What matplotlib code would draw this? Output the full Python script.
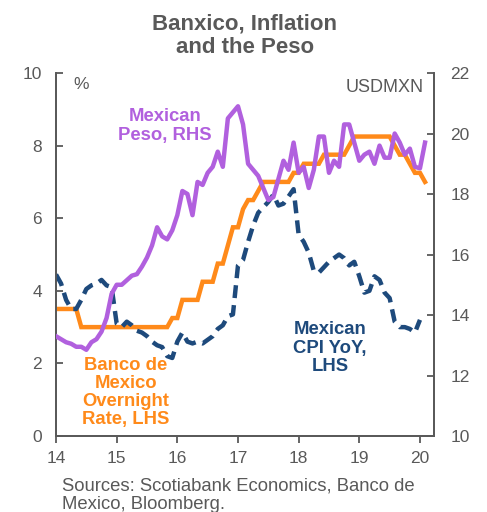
import matplotlib
matplotlib.use("Agg")
import matplotlib.pyplot as plt
import numpy as np

plt.rcParams['font.family'] = ['Liberation Sans', 'DejaVu Sans']

# Monthly observations, Jan 2014 .. Feb 2020
start_year = 14
banxico_rate = [3.5, 3.5, 3.5, 3.5, 3.5, 3.0, 3.0, 3.0, 3.0, 3.0, 3.0, 3.0,
                3.0, 3.0, 3.0, 3.0, 3.0, 3.0, 3.0, 3.0, 3.0, 3.0, 3.0, 3.25,
                3.25, 3.75, 3.75, 3.75, 3.75, 4.25, 4.25, 4.25, 4.75, 4.75, 5.25, 5.75,
                5.75, 6.25, 6.5, 6.5, 6.75, 7.0, 7.0, 7.0, 7.0, 7.0, 7.0, 7.25,
                7.25, 7.5, 7.5, 7.5, 7.5, 7.75, 7.75, 7.75, 7.75, 7.75, 8.0, 8.25,
                8.25, 8.25, 8.25, 8.25, 8.25, 8.25, 8.25, 8.0, 7.75, 7.75, 7.5, 7.25,
                7.25, 7.0]

usdmxn = [13.3, 13.2, 13.1, 13.05, 12.95, 12.95, 12.85, 13.1, 13.2, 13.45, 13.9, 14.7,
          15.0, 15.0, 15.15, 15.3, 15.35, 15.6, 15.9, 16.3, 16.9, 16.6, 16.5, 16.8,
          17.3, 18.1, 18.0, 17.3, 18.4, 18.3, 18.7, 18.9, 19.4, 18.9, 20.5, 20.7,
          20.9, 20.3, 19.0, 18.8, 18.6, 18.2, 17.8, 17.9, 18.5, 19.1, 18.8, 19.7,
          18.7, 18.9, 18.2, 18.8, 19.9, 19.9, 18.7, 19.1, 18.9, 20.3, 20.3, 19.7,
          19.1, 19.3, 19.4, 19.0, 19.6, 19.2, 19.2, 20.0, 19.7, 19.3, 19.5, 18.9,
          18.85, 19.7]

cpi_yoy = [4.45, 4.2, 3.75, 3.5, 3.5, 3.75, 4.05, 4.15, 4.2, 4.3, 4.15, 4.1,
           3.1, 3.0, 3.15, 3.05, 2.9, 2.85, 2.75, 2.6, 2.5, 2.45, 2.2, 2.15,
           2.6, 2.85, 2.6, 2.55, 2.6, 2.55, 2.65, 2.75, 2.95, 3.05, 3.3, 3.35,
           4.7, 4.85, 5.35, 5.8, 6.15, 6.3, 6.45, 6.65, 6.35, 6.4, 6.6, 6.8,
           5.55, 5.35, 5.05, 4.55, 4.5, 4.65, 4.8, 4.9, 5.0, 4.9, 4.7, 4.8,
           4.4, 3.95, 4.0, 4.4, 4.3, 3.95, 3.8, 3.15, 3.0, 3.0, 2.95, 2.85,
           3.2]

left_ticks = [0, 2, 4, 6, 8, 10]
right_ticks = [10, 12, 14, 16, 18, 20, 22]
year_ticks = [14, 15, 16, 17, 18, 19, 20]

x_rate = start_year + np.arange(len(banxico_rate)) / 12
x_fx = start_year + np.arange(len(usdmxn)) / 12
x_cpi = start_year + np.arange(len(cpi_yoy)) / 12

GRAY = '#595959'
PURPLE = '#B160DE'
ORANGE = '#FF8A1A'
BLUE = '#1E4A7C'

fig = plt.figure(figsize=(4.87, 5.12), dpi=100)
ax = fig.add_axes([0.115, 0.1484, 0.776, 0.709])
ax2 = ax.twinx()

ax.plot(x_rate, banxico_rate, color=ORANGE, lw=3.2, solid_joinstyle='miter', zorder=2)
ax.plot(x_cpi, cpi_yoy, color=BLUE, lw=3.2, linestyle=(0, (2.9, 1.6)), zorder=3)
ax2.plot(x_fx, usdmxn, color=PURPLE, lw=3.2, zorder=3)

ax.set_xlim(14, 20.23)
ax.set_ylim(0, 10)
ax2.set_ylim(10, 22)
ax.set_yticks(left_ticks)
ax2.set_yticks(right_ticks)
ax.set_xticks(year_ticks)
ax.set_xticklabels([str(t) for t in year_ticks])

for a in (ax, ax2):
    a.spines['top'].set_visible(False)
    for s in ('left', 'right', 'bottom'):
        a.spines[s].set_color(GRAY)
        a.spines[s].set_linewidth(1.3)
ax.tick_params(axis='y', direction='in', length=5, width=1.3, color=GRAY,
               labelcolor=GRAY, labelsize=12.5, pad=10)
ax2.tick_params(axis='y', direction='in', length=5, width=1.3, color=GRAY,
                labelcolor=GRAY, labelsize=12.5, pad=12)
ax.tick_params(axis='x', direction='out', length=5, width=1.3, color=GRAY,
               labelcolor=GRAY, labelsize=12.5, pad=6)

ax.text(14.28, 9.67, '%', color=GRAY, fontsize=12.5, ha='left', va='center')
ax.text(20.06, 9.59, 'USDMXN', color=GRAY, fontsize=13, ha='right', va='center')

ax.text(15.80, 8.54, 'Mexican\nPeso, RHS', color=PURPLE, fontsize=13.3,
        fontweight='bold', ha='center', va='center', linespacing=1.1)
ax.text(15.15, 1.20, 'Banco de\nMexico\nOvernight\nRate, LHS', color=ORANGE,
        fontsize=13.3, fontweight='bold', ha='center', va='center', linespacing=1.1)
ax.text(18.52, 2.42, 'Mexican\nCPI YoY,\nLHS', color=BLUE, fontsize=13.3,
        fontweight='bold', ha='center', va='center', linespacing=1.1)

fig.text(0.503, 0.931, 'Banxico, Inflation\nand the Peso', color=GRAY,
         fontsize=16, fontweight='bold', ha='center', va='center', linespacing=1.15)
fig.text(0.127, 0.068, 'Sources: Scotiabank Economics, Banco de\nMexico, Bloomberg.',
         color=GRAY, fontsize=13.3, ha='left', va='top', linespacing=1.15)

fig.savefig('out.png', dpi=100)
